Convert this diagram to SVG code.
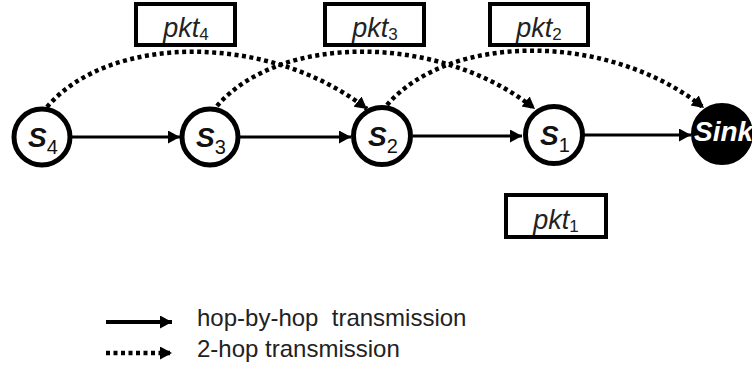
<svg xmlns="http://www.w3.org/2000/svg" width="752" height="371" viewBox="0 0 752 371">
<defs>
<style>
.node{fill:#fff;stroke:#000;stroke-width:5}
.sink{fill:#000;stroke:#000;stroke-width:2}
.box{fill:#fff;stroke:#000;stroke-width:4}
.hop{fill:none;stroke:#000;stroke-width:3}
.two{fill:none;stroke:#000;stroke-width:4.5;stroke-dasharray:4 3.5}
.lbl{font-family:"Liberation Sans",Arial,sans-serif;fill:#111}
.s{font-size:28px;font-style:italic;font-weight:bold}
.sub{font-size:20px;font-style:normal;font-weight:normal}
.pkt{font-size:27px;font-style:italic;fill:#222}
.psub{font-size:17px;font-style:normal}
.leg{font-size:24px;fill:#222}
</style>
<marker id="ah" markerUnits="userSpaceOnUse" markerWidth="13" markerHeight="14" refX="12" refY="6.5" orient="auto">
<path d="M0,0 L12,6.5 L0,13 z" fill="#000"/>
</marker>
</defs>
<g id="connectors">
<line class="hop" x1="72" y1="137" x2="180" y2="137" marker-end="url(#ah)"/>
<line class="hop" x1="240" y1="137" x2="351" y2="137" marker-end="url(#ah)"/>
<line class="hop" x1="413" y1="136" x2="522" y2="136" marker-end="url(#ah)"/>
<line class="hop" x1="584" y1="135" x2="691" y2="135" marker-end="url(#ah)"/>
<path class="two" d="M47,107 C110,33 270,33 367,109" marker-end="url(#ah)"/>
<path class="two" d="M217,106 C280,33 440,33 535,109" marker-end="url(#ah)"/>
<path class="two" d="M387,105 C450,32 610,32 704,108" marker-end="url(#ah)"/>
</g>
<g id="s4"><circle class="node" cx="42" cy="137" r="28"/><text class="lbl s" x="43" y="147" text-anchor="middle">S<tspan class="sub" dy="7">4</tspan></text></g>
<g id="s3"><circle class="node" cx="210" cy="137" r="28"/><text class="lbl s" x="211" y="147" text-anchor="middle">S<tspan class="sub" dy="7">3</tspan></text></g>
<g id="s2"><circle class="node" cx="382" cy="136" r="28.5"/><text class="lbl s" x="383" y="146" text-anchor="middle">S<tspan class="sub" dy="7">2</tspan></text></g>
<g id="s1"><circle class="node" cx="554" cy="135" r="28.5"/><text class="lbl s" x="555" y="145" text-anchor="middle">S<tspan class="sub" dy="7">1</tspan></text></g>
<g id="sink"><circle class="sink" cx="722" cy="134" r="30"/><text class="lbl s" x="694" y="141" style="fill:#fff">Sink</text></g>
<g id="pkt4"><rect class="box" x="136" y="4" width="99" height="41"/><text class="lbl pkt" x="186" y="37" text-anchor="middle">pkt<tspan class="psub" dy="3">4</tspan></text></g>
<g id="pkt3"><rect class="box" x="325" y="4" width="99" height="41"/><text class="lbl pkt" x="375" y="37" text-anchor="middle">pkt<tspan class="psub" dy="3">3</tspan></text></g>
<g id="pkt2"><rect class="box" x="490" y="4" width="98" height="41"/><text class="lbl pkt" x="539" y="37" text-anchor="middle">pkt<tspan class="psub" dy="3">2</tspan></text></g>
<g id="pkt1"><rect class="box" x="506" y="195" width="100" height="42"/><text class="lbl pkt" x="556" y="229" text-anchor="middle">pkt<tspan class="psub" dy="3">1</tspan></text></g>
<g id="legend">
<line x1="106" y1="322" x2="172" y2="322" stroke="#000" stroke-width="4" marker-end="url(#ah)"/>
<line x1="106" y1="353" x2="172" y2="353" class="two" marker-end="url(#ah)"/>
<text class="lbl leg" x="197" y="326" xml:space="preserve">hop-by-hop  transmission</text>
<text class="lbl leg" x="197" y="357">2-hop transmission</text>
</g>
</svg>
